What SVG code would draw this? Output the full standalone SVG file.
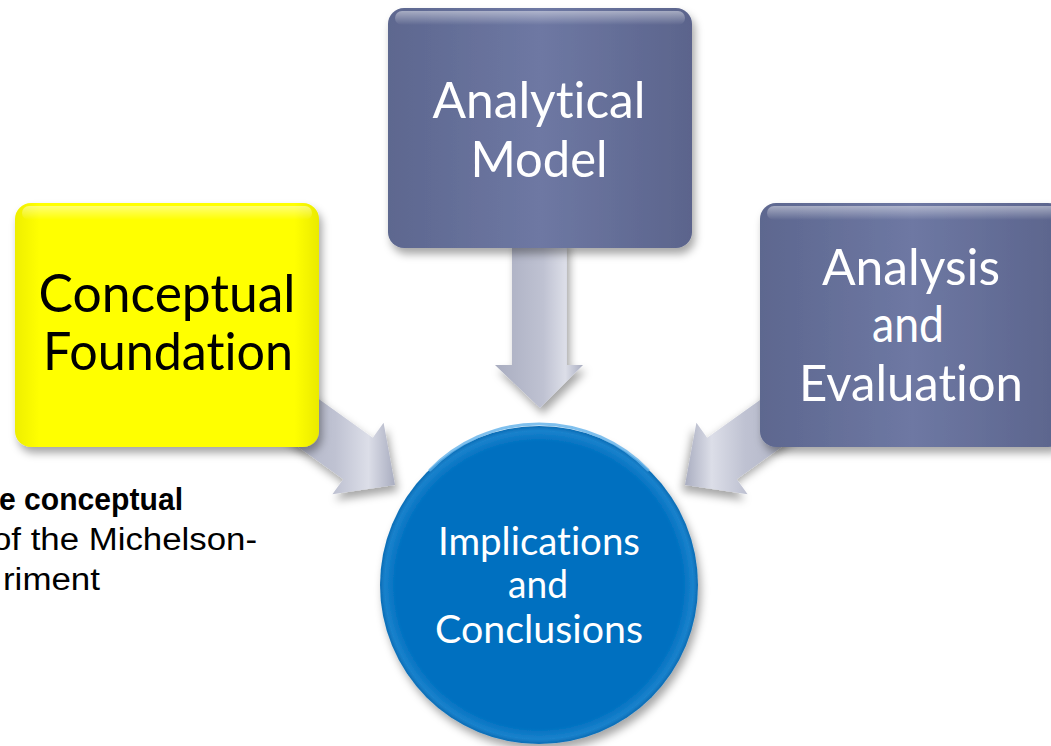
<svg xmlns="http://www.w3.org/2000/svg" width="1051" height="746" viewBox="0 0 1051 746">
<defs>
<style>
.lbl{font-family:Lato,"Open Sans","Liberation Sans",sans-serif;text-anchor:middle;font-variant-ligatures:none;font-feature-settings:"liga" 0}
.w{fill:#ffffff}
.k{fill:#000000}
.side{font-family:"Liberation Sans",Arial,sans-serif;font-size:31px;fill:#000;text-anchor:end}
.arrow{fill:url(#ag);filter:url(#sh)}
</style>
<linearGradient id="ag" x1="0" y1="0" x2="1" y2="0">
<stop offset="0" stop-color="#a9adc0"/>
<stop offset="0.55" stop-color="#bfc2d2"/>
<stop offset="0.8" stop-color="#dcdee8"/>
<stop offset="1" stop-color="#a9adc0"/>
</linearGradient>
<linearGradient id="bg" x1="0" y1="0" x2="1" y2="0">
<stop offset="0" stop-color="#5d678f"/>
<stop offset="0.5" stop-color="#6e78a3"/>
<stop offset="1" stop-color="#5b648c"/>
</linearGradient>
<linearGradient id="yg" x1="0" y1="0" x2="1" y2="0">
<stop offset="0" stop-color="#eeee00"/>
<stop offset="0.08" stop-color="#ffff00"/>
<stop offset="0.92" stop-color="#ffff00"/>
<stop offset="1" stop-color="#eaea00"/>
</linearGradient>
<radialGradient id="cg" cx="0.5" cy="0.5" r="0.5">
<stop offset="0.9" stop-color="#0070c0"/>
<stop offset="0.97" stop-color="#1a82cc"/>
<stop offset="1" stop-color="#0a6cb5"/>
</radialGradient>
<linearGradient id="hl" x1="0" y1="0" x2="0" y2="1">
<stop offset="0" stop-color="#ffffff" stop-opacity="0.45"/>
<stop offset="1" stop-color="#ffffff" stop-opacity="0"/>
</linearGradient>
<filter id="sh" x="-20%" y="-20%" width="140%" height="140%">
<feDropShadow dx="3" dy="6" stdDeviation="4" flood-color="#000" flood-opacity="0.35"/>
</filter>
</defs>
<rect width="1051" height="746" fill="#ffffff"/>

<g id="connectors">
<polygon class="arrow" points="512,240 567,240 567,365 583,365 540,408 495,365 512,365"/>
<polygon class="arrow" points="291.5,379.6 372.8,437.8 383.6,422.7 395,485 332.4,494.3 343.2,479.2 261.9,421"/>
<polygon class="arrow" transform="translate(1080,0) scale(-1,1)" points="291.5,379.6 372.8,437.8 383.6,422.7 395,485 332.4,494.3 343.2,479.2 261.9,421"/>
</g>

<g id="node-conceptual">
<rect x="15" y="203" width="304" height="244" rx="16" fill="url(#yg)" filter="url(#sh)"/>
<rect x="22" y="206" width="290" height="14" rx="7" fill="url(#hl)"/>
<text class="lbl k" font-size="52" x="167" y="312" textLength="257" lengthAdjust="spacingAndGlyphs">Conceptual</text>
<text class="lbl k" font-size="52" x="168" y="370" textLength="250" lengthAdjust="spacingAndGlyphs">Foundation</text>
</g>

<g id="node-analytical">
<rect x="388" y="8" width="304" height="240" rx="16" fill="url(#bg)" filter="url(#sh)"/>
<rect x="395" y="11" width="290" height="14" rx="7" fill="url(#hl)"/>
<text class="lbl w" font-size="51" x="539" y="118" textLength="213" lengthAdjust="spacingAndGlyphs">Analytical</text>
<text class="lbl w" font-size="51" x="539" y="177" textLength="137" lengthAdjust="spacingAndGlyphs">Model</text>
</g>

<g id="node-analysis">
<rect x="760" y="203" width="304" height="244" rx="16" fill="url(#bg)" filter="url(#sh)"/>
<rect x="767" y="206" width="290" height="14" rx="7" fill="url(#hl)"/>
<text class="lbl w" font-size="51" x="911" y="285" textLength="178" lengthAdjust="spacingAndGlyphs">Analysis</text>
<text class="lbl w" font-size="51" x="908" y="342" textLength="72" lengthAdjust="spacingAndGlyphs">and</text>
<text class="lbl w" font-size="51" x="911" y="401" textLength="224" lengthAdjust="spacingAndGlyphs">Evaluation</text>
</g>

<g id="node-implications">
<circle cx="539" cy="585" r="159" fill="url(#cg)" filter="url(#sh)"/>
<path d="M 430 470 A 152 152 0 0 1 648 470" fill="none" stroke="#5fb0ea" stroke-width="3" stroke-linecap="round" opacity="0.8"/>
<text class="lbl w" font-size="39" x="539" y="555" textLength="202" lengthAdjust="spacingAndGlyphs">Implications</text>
<text class="lbl w" font-size="39" x="538" y="598" textLength="60" lengthAdjust="spacingAndGlyphs">and</text>
<text class="lbl w" font-size="39" x="539" y="643" textLength="208" lengthAdjust="spacingAndGlyphs">Conclusions</text>
</g>

<g id="side-text">
<text class="side" x="183" y="510" font-weight="bold" textLength="184" lengthAdjust="spacingAndGlyphs">e conceptual</text>
<text class="side" x="257" y="550" textLength="265" lengthAdjust="spacingAndGlyphs">of the Michelson-</text>
<text class="side" x="100" y="590" textLength="97" lengthAdjust="spacingAndGlyphs">riment</text>
</g>
</svg>
